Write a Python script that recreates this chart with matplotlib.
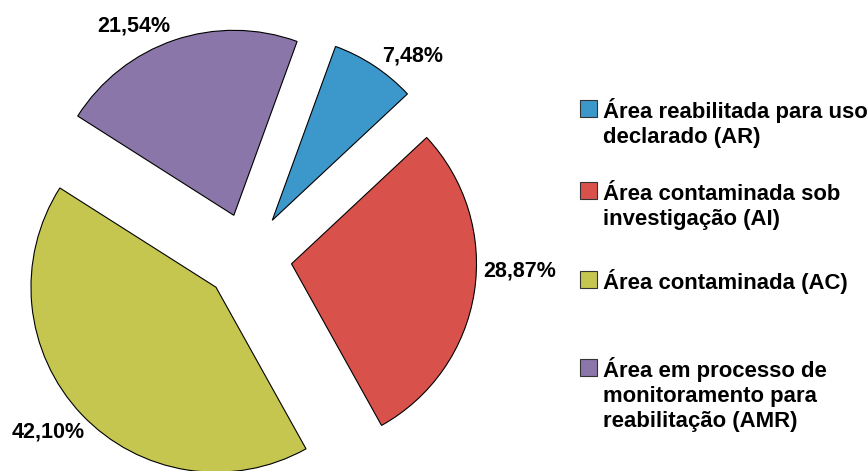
import numpy as np
import matplotlib
matplotlib.use("Agg")
import matplotlib.pyplot as plt
from matplotlib.patches import Rectangle

# data
categorias = ["AR", "AI", "AC", "AMR"]
percentuais = [7.48, 28.87, 42.10, 21.54]
legendas = [
    "Área reabilitada para uso\ndeclarado (AR)",
    "Área contaminada sob\ninvestigação (AI)",
    "Área contaminada (AC)",
    "Área em processo de\nmonitoramento para\nreabilitação (AMR)",
]
cores = ["#3c97ca", "#d9514b", "#c5c64f", "#8b76a9"]

W, H = 867, 471
plt.rcParams['font.family'] = ['Liberation Sans', 'DejaVu Sans']

fig = plt.figure(figsize=(W / 100, H / 100), dpi=100)
ax = fig.add_axes([0, 0, 1, 1])

# pie centre / radius in pixels (radius = 1 data unit)
cx, cy, r = 248, 257, 185
wedges, _ = ax.pie(percentuais, colors=cores, startangle=70, counterclock=False,
                   explode=[0.238] * 4, radius=1,
                   wedgeprops=dict(edgecolor="black", linewidth=0.8))
ax.set_xlim(-cx / r, (W - cx) / r)
ax.set_ylim(-(H - cy) / r, cy / r)
ax.set_aspect("equal")
ax.axis("off")

def fx(px):
    return px / W

def fy(py):
    return 1 - py / H

# percentage labels
pos_rotulos = [(413, 56), (520, 271), (48, 432), (134, 26)]
for p, (x, y) in zip(percentuais, pos_rotulos):
    txt = f"{p:.2f}%".replace(".", ",")
    fig.text(fx(x), fy(y), txt, ha="center", va="center",
             fontsize=15.5, fontweight="bold")

# legend drawn by hand, one text per line (25 px apart)
quadrados = [100, 182, 271, 359]
for cor, lab, t in zip(cores, legendas, quadrados):
    fig.patches.append(Rectangle((fx(580), fy(t + 17)), 17 / W, 17 / H,
                                 transform=fig.transFigure, facecolor=cor,
                                 edgecolor="#333333", linewidth=0.8))
    for i, linha in enumerate(lab.split("\n")):
        fig.text(fx(603), fy(t + 18 + 25 * i), linha, ha="left", va="baseline",
                 fontsize=15.9, fontweight="bold")

fig.savefig("out.png", dpi=100)
